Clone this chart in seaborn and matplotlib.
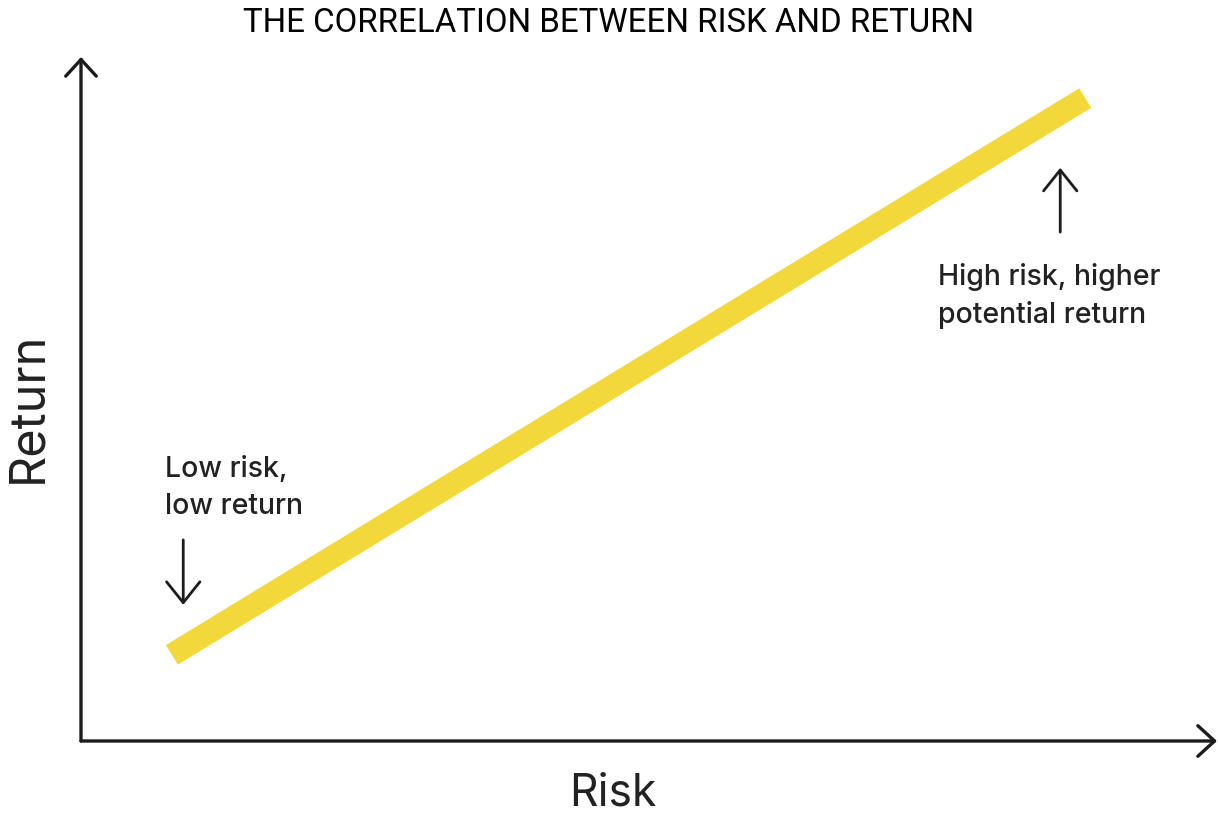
import matplotlib
matplotlib.use("Agg")
import matplotlib.pyplot as plt
import seaborn as sns
import pandas as pd

# Data (axis units 0-100, no real scale on the chart)
risk = [8.0, 88.4]
ret = [12.6, 94.0]

title = "THE CORRELATION BETWEEN RISK AND RETURN"
x_label = "Risk"
y_label = "Return"
low_note = "Low risk,\nlow return"
high_note = "High risk, higher\npotential return"

sns.set_theme(style="white")
plt.rcParams["font.family"] = ["Inter", "DejaVu Sans"]

df = pd.DataFrame({"risk": risk, "ret": ret})

fig = plt.figure(figsize=(12.18, 8.15), dpi=100)
ax = fig.add_axes([81 / 1218, 74 / 815, 1136 / 1218, 684 / 815])

sns.lineplot(data=df, x="risk", y="ret", color="#f3d83c", linewidth=16.5,
             solid_capstyle="butt", ax=ax)

ax.set_xlim(0, 100)
ax.set_ylim(0, 100)
ax.set_xticks([])
ax.set_yticks([])
ax.set_xlabel("")
ax.set_ylabel("")
for s in ax.spines.values():
    s.set_visible(False)

ink = "#1c1c1c"
axis_arrow = dict(arrowstyle="->,head_length=0.6,head_width=0.55", lw=2.4,
                  color=ink, mutation_scale=20, shrinkA=0, shrinkB=0)
ax.annotate("", xy=(1, 0), xytext=(0, 0), xycoords="axes fraction",
            arrowprops=axis_arrow, annotation_clip=False)
ax.annotate("", xy=(0, 1), xytext=(0, 0), xycoords="axes fraction",
            arrowprops=axis_arrow, annotation_clip=False)

note_arrow = dict(arrowstyle="->,head_length=0.75,head_width=0.6", lw=2.0,
                  color=ink, mutation_scale=20, shrinkA=0, shrinkB=0)
ax.annotate("", xy=(9.0, 19.9), xytext=(9.0, 29.4), arrowprops=note_arrow)
ax.annotate("", xy=(86.2, 83.8), xytext=(86.2, 74.4), arrowprops=note_arrow)

ax.text(7.4, 41.7, low_note, fontsize=20.5, color="#222222", va="top",
        ha="left", linespacing=1.5, fontweight="medium")
ax.text(75.4, 69.9, high_note, fontsize=20.5, color="#222222", va="top",
        ha="left", linespacing=1.45, fontweight="medium")

fig.text(0.5, 1 - 23 / 815, title, ha="center", va="center", fontsize=23.8,
         color="black", family=["Roboto", "DejaVu Sans"])
fig.text(613 / 1218, 1 - 794 / 815, x_label, ha="center", va="center",
         fontsize=32, color="#222222")
fig.text(28 / 1218, 1 - 407 / 815, y_label, ha="center", va="center",
         fontsize=35, color="#222222", rotation=90)

fig.savefig("out.png", dpi=100)
